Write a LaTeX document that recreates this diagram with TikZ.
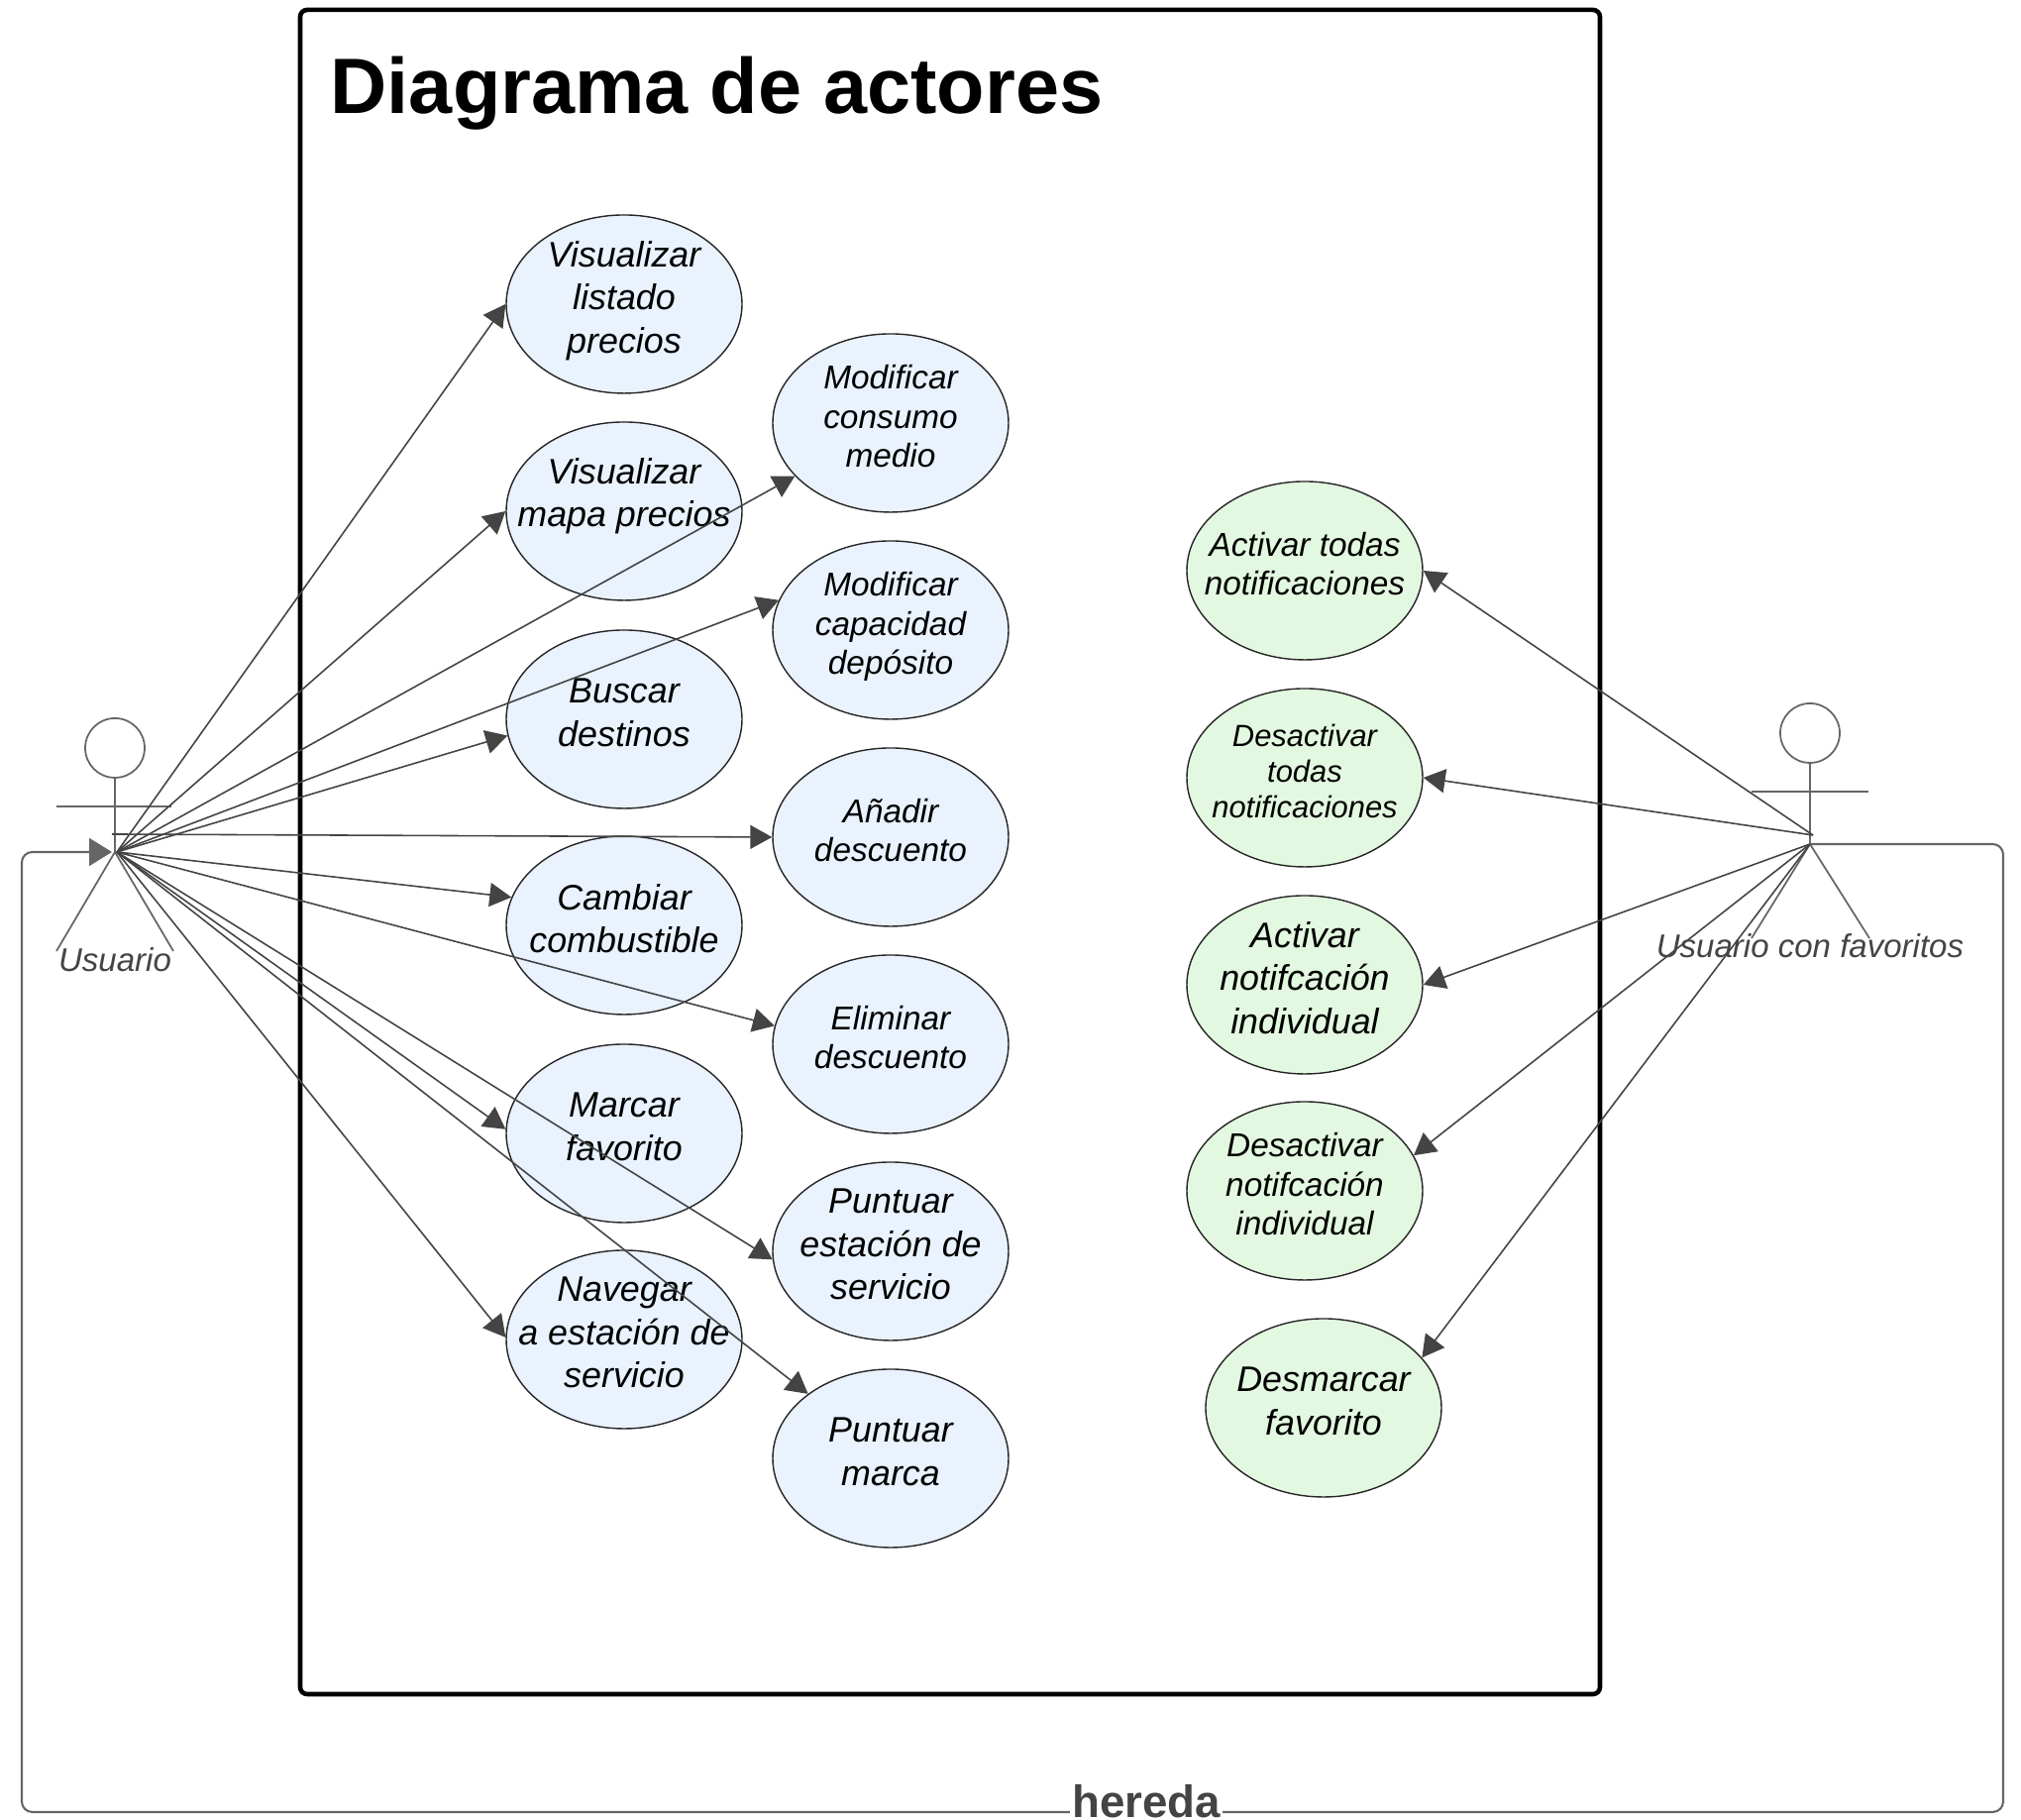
\documentclass[tikz,border=0pt]{standalone}
\usepackage{fontspec}
\setmainfont{Liberation Sans}
\usetikzlibrary{arrows.meta,shapes.geometric}

\definecolor{casoazul}{HTML}{E9F2FD}
\definecolor{casoverde}{HTML}{E3F8E0}
\definecolor{lineagris}{HTML}{666666}
\definecolor{flechagris}{HTML}{444444}

\tikzset{
    caso/.style = {ellipse, draw = black!85, line width = 0.4pt, minimum width = 2.38cm,
        minimum height = 1.80cm, inner sep = -0.5cm, align = center,
        execute at begin node = {\rule{0pt}{0.32cm}},
        execute at end node = {\rule[-0.14cm]{0pt}{0pt}}},
    casogrande/.style = {caso, font = \fontsize{10.2}{12.4}\selectfont\itshape},
    casomedio/.style = {caso, font = \fontsize{9.5}{11.3}\selectfont\itshape},
    casochico/.style = {caso, font = \fontsize{8.8}{10.2}\selectfont\itshape},
    uso/.style = {draw = flechagris, line width = 0.45pt, -{Triangle[length = 2.2mm, width = 2.4mm]}},
    actor/.style = {draw = lineagris, line width = 0.5pt},
    actortexto/.style = {text = flechagris, font = \fontsize{9.4}{11}\selectfont\itshape, inner sep = 0pt},
}

\begin{document}
\begin{tikzpicture}
        \useasboundingbox (0,0) rectangle (20.40,18.37);

        \draw[line width = 1.3pt, rounded corners = 2pt] (3.03,1.27) rectangle (16.15,18.27);
        \node[anchor = base west, inner sep = 0pt, font = \fontsize{22.55}{27}\selectfont\bfseries] (titulo) at (3.33,17.22) {Diagrama de actores};

        % columna izquierda
        \node[casogrande, fill = casoazul] (listado) at (6.30,15.30) {Visualizar\\listado\\precios};
        \node[casogrande, fill = casoazul] (mapa) at (6.30,13.21) {Visualizar\\mapa precios\rule[-0.38cm]{0pt}{0pt}};
        \node[casogrande, fill = casoazul] (buscar) at (6.30,11.11) {Buscar\\destinos};
        \node[casogrande, fill = casoazul] (combustible) at (6.30,9.03) {Cambiar\\combustible};
        \node[casogrande, fill = casoazul] (marcar) at (6.30,6.93) {Marcar\\favorito};
        \node[casogrande, fill = casoazul] (navegar) at (6.30,4.85) {Navegar\\a estación de\\servicio};

        % columna central
        \node[casomedio, fill = casoazul] (consumo) at (8.99,14.10) {Modificar\\consumo\\medio};
        \node[casomedio, fill = casoazul] (capacidad) at (8.99,12.01) {Modificar\\capacidad\\depósito};
        \node[casomedio, fill = casoazul] (anadir) at (8.99,9.92) {Añadir\\descuento};
        \node[casomedio, fill = casoazul] (eliminar) at (8.99,7.83) {Eliminar\\descuento};
        \node[casogrande, fill = casoazul] (estacion) at (8.99,5.74) {Puntuar\\estación de\\servicio};
        \node[casogrande, fill = casoazul] (marca) at (8.99,3.65) {Puntuar\\marca};

        % columna derecha
        \node[casomedio, fill = casoverde] (activartodas) at (13.17,12.61) {Activar todas\\notificaciones};
        \node[casochico, fill = casoverde] (desactivartodas) at (13.17,10.52) {Desactivar\\todas\\notificaciones};
        \node[casogrande, fill = casoverde] (activarind) at (13.17,8.43) {Activar\\notifcación\\individual};
        \node[casomedio, fill = casoverde] (desactivarind) at (13.17,6.35) {Desactivar\\notifcación\\individual};
        \node[casogrande, fill = casoverde] (desmarcar) at (13.36,4.16) {Desmarcar\\favorito};

        % actores
        \node[actor, circle, minimum size = 0.60cm, inner sep = 0pt] (cabezauno) at (1.16,10.82) {};
        \coordinate (cadera) at (1.16,9.77);
        \draw[actor] (cabezauno.south) -- (cadera);
        \draw[actor] (0.57,10.23) -- (1.73,10.23);
        \draw[actor] (0.57,8.77) -- (cadera) -- (1.75,8.77);
        \node[actortexto] (usuario) at (1.16,8.68) {Usuario};

        \node[actor, circle, minimum size = 0.60cm, inner sep = 0pt] (cabezados) at (18.27,10.97) {};
        \coordinate (caderados) at (18.27,9.85);
        \draw[actor] (cabezados.south) -- (caderados);
        \draw[actor] (17.68,10.38) -- (18.86,10.38);
        \draw[actor] (17.68,8.90) -- (caderados) -- (18.87,8.90);
        \node[actortexto] (favoritos) at (18.27,8.82) {Usuario con favoritos};

        % casos de uso del usuario
        \coordinate (mano) at (1.18,9.77);
        \coordinate (hombro) at (1.13,9.95);
        \draw[uso] (mano) -- (listado.west);
        \draw[uso] (mano) -- (mapa.west);
        \draw[uso] (mano) -- (consumo.209);
        \draw[uso] (mano) -- (capacidad.165);
        \draw[uso] (mano) -- (buscar.188);
        \draw[uso] (hombro) -- (anadir.west);
        \draw[uso] (mano) -- (combustible.166);
        \draw[uso] (mano) -- (eliminar.171);
        \draw[uso] (mano) -- (marcar.178);
        \draw[uso] (mano) -- (estacion.184);
        \draw[uso] (mano) -- (navegar.179);
        \draw[uso] (mano) -- (marca.142);

        % casos de uso del usuario con favoritos
        \coordinate (manodos) at (18.30,9.94);
        \draw[uso] (manodos) -- (activartodas.east);
        \draw[uso] (manodos) -- (desactivartodas.east);
        \draw[uso] (caderados) -- (activarind.east);
        \draw[uso] (caderados) -- (desactivarind.18);
        \draw[uso] (caderados) -- (desmarcar.27);

        % herencia
        \draw[draw = lineagris, line width = 0.6pt, rounded corners = 3pt, -{Triangle[length = 2.3mm, width = 2.8mm]}]
            (caderados) -- (20.22,9.85) -- (20.22,0.08) -- (0.22,0.08) -- (0.22,9.77) -- (1.13,9.77);
        \node[anchor = base, fill = white, text = flechagris, inner xsep = 0.5pt, inner ysep = 0pt, font = \fontsize{13}{15}\selectfont\bfseries] (hereda) at (11.57,0.02) {hereda};
    \end{tikzpicture}
\end{document}
